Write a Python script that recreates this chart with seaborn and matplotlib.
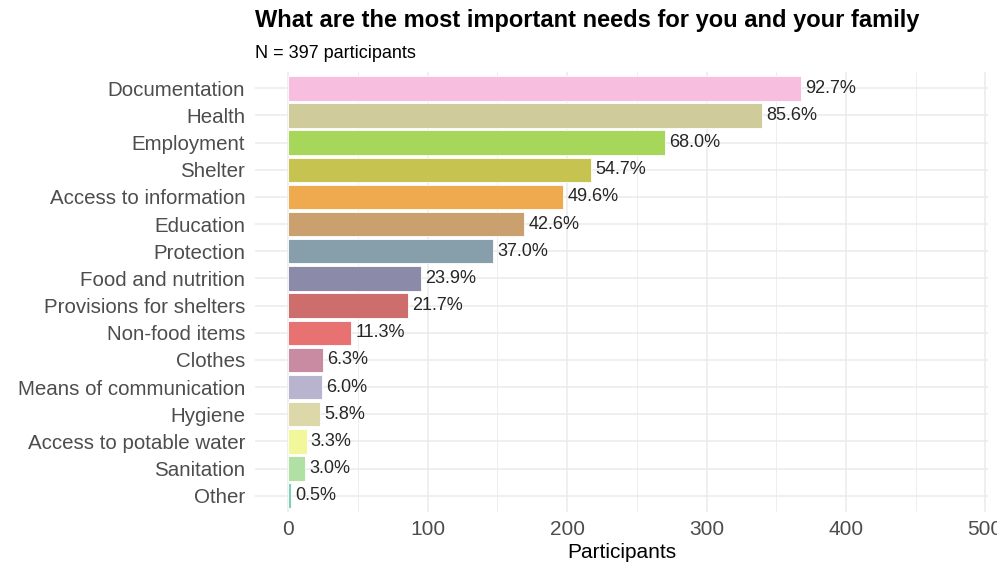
import pandas as pd
import numpy as np
import matplotlib.pyplot as plt
import seaborn as sns

needs = ['Documentation', 'Health', 'Employment', 'Shelter', 'Access to information',
         'Education', 'Protection', 'Food and nutrition', 'Provisions for shelters',
         'Non-food items', 'Clothes', 'Means of communication', 'Hygiene',
         'Access to potable water', 'Sanitation', 'Other']
participants = [368, 340, 270, 217, 197, 169, 147, 95, 86, 45, 25, 24, 23, 13, 12, 2]
pct_labels = ['92.7%', '85.6%', '68.0%', '54.7%', '49.6%', '42.6%', '37.0%', '23.9%',
              '21.7%', '11.3%', '6.3%', '6.0%', '5.8%', '3.3%', '3.0%', '0.5%']
bar_colors = ['#F7BEDF', '#CFCB9A', '#A6D75B', '#C6C350', '#EFA94F', '#C9A06E',
              '#879FAB', '#8B8BA9', '#CD6E6D', '#E87171', '#C98BA2', '#B8B3CF',
              '#DDD8AA', '#F3F79B', '#B1E0A4', '#7FCFB9']

df = pd.DataFrame({'need': needs, 'n': participants})

sns.set_theme(style='whitegrid')
plt.rcParams['font.family'] = ['Liberation Sans', 'DejaVu Sans']

W, H = 997, 566
fig = plt.figure(figsize=(W / 100, H / 100), dpi=100)
ax = fig.add_axes([255 / W, 1 - 512 / H, (988 - 255) / W, (512 - 72) / H])

sns.barplot(data=df, x='n', y='need', hue='need', palette=bar_colors, legend=False,
            width=0.9, saturation=1, edgecolor='white', linewidth=0.6, ax=ax)

for i, (v, lab) in enumerate(zip(participants, pct_labels)):
    ax.text(v + 3, i, lab, va='center', ha='left', fontsize=13, color='#262626')

ax.set_xlim(-24, 502)
ax.set_ylim(15.6, -0.6)
ax.set_xticks([0, 100, 200, 300, 400, 500])
ax.set_xticks([50, 150, 250, 350, 450], minor=True)
ax.grid(True, which='major', axis='both', color='#EBEBEB', linewidth=1.1)
ax.grid(True, which='minor', axis='x', color='#EBEBEB', linewidth=0.6)
ax.set_axisbelow(True)
for s in ax.spines.values():
    s.set_visible(False)
ax.tick_params(axis='both', which='both', length=0, colors='#4D4D4D')
ax.tick_params(axis='y', pad=7, labelsize=14.8)
ax.tick_params(axis='x', pad=6, labelsize=15)
ax.set_xlabel('Participants', fontsize=15, color='black', labelpad=3)
ax.set_ylabel('')

fig.text(255 / W, 1 - 21 / H, 'What are the most important needs for you and your family',
         fontsize=17, fontweight='bold', color='black', ha='left', va='center')
fig.text(255 / W, 1 - 53 / H, 'N = 397 participants', fontsize=13, color='black',
         ha='left', va='center')

fig.savefig('out.png', dpi=100)
